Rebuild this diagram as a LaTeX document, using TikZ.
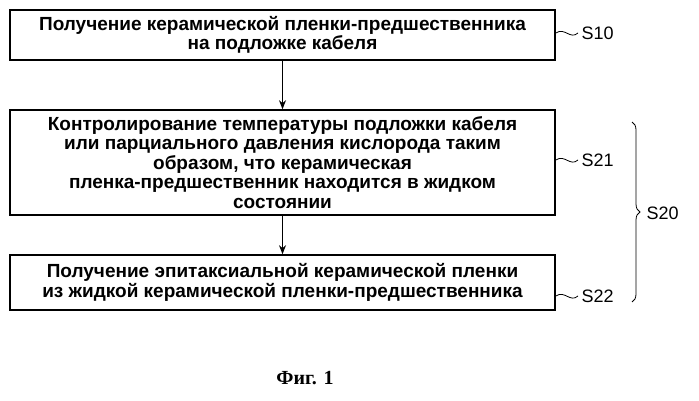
\documentclass[tikz,border=0pt]{standalone}
\usepackage{fontspec}
\setmainfont{Liberation Sans}
\newfontfamily\capfont{Liberation Serif}
\usetikzlibrary{decorations.pathreplacing,arrows.meta}
\begin{document}
\begin{tikzpicture}[x=1pt,y=-1pt,
  stepbox/.style={draw,line width=1.6pt,minimum width=545pt,align=center,font=\bfseries\fontsize{19}{19.5}\selectfont,inner sep=0pt},
  lab/.style={font=\fontsize{18}{19}\selectfont,anchor=west},
  sq/.style={line width=0.8pt}]
\useasboundingbox (0,0) rectangle (699,401);
\node[stepbox,minimum height=50pt] (b1) at (282.5,35) {Получение керамической пленки-предшественника\\на подложке кабеля};
\node[stepbox,minimum height=105pt] (b2) at (282.5,162.5) {Контролирование температуры подложки кабеля\\или парциального давления кислорода таким\\образом, что керамическая\\пленка-предшественник находится в жидком\\состоянии};
\node[stepbox,minimum height=55pt] (b3) at (282.5,282.5) {Получение эпитаксиальной керамической пленки\\из жидкой керамической пленки-предшественника};
\draw[-{Stealth[length=9pt,width=7pt]},line width=1pt] (b1) -- (b2);
\draw[-{Stealth[length=9pt,width=7pt]},line width=1pt] (b2) -- (b3);
\node[lab] (s10) at (578,33) {S10};
\node[lab] (s21) at (578,160) {S21};
\node[lab] (s22) at (578,296) {S22};
\draw[sq] (b1.east |- s10) .. controls (565,27) and (570,40) .. (s10.west);
\draw[sq] (b2.east |- s21) .. controls (565,154) and (570,167) .. (s21.west);
\draw[sq] (b3.east |- s22) .. controls (565,290) and (570,303) .. (s22.west);
\coordinate (bt) at (632,122);
\coordinate (bb) at (632,302);
\draw[sq,decorate,decoration={brace,amplitude=8pt}] (bt) -- (bb);
\node[lab] (s20) at (643,213) {S20};
\node[font=\capfont\bfseries\fontsize{20}{22}\selectfont] (cap) at (305,378) {Фиг. 1};
\end{tikzpicture}
\end{document}
